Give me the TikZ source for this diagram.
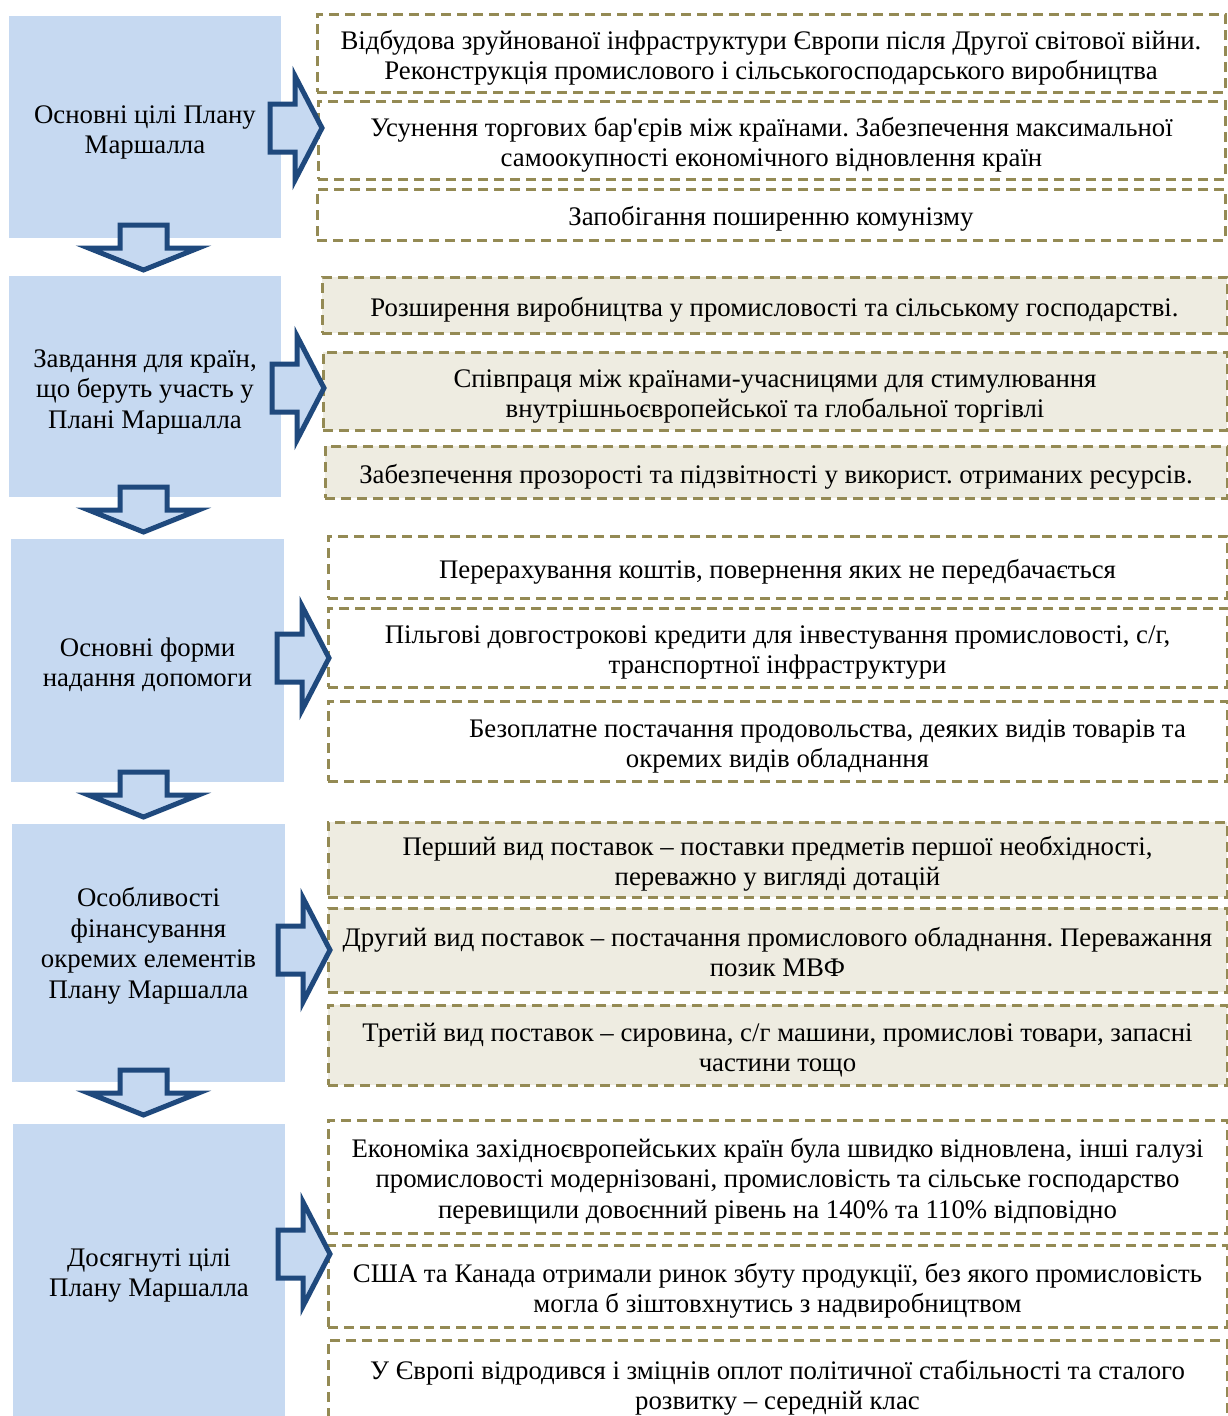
\documentclass[tikz,border=0pt]{standalone}
\usepackage{fontspec}
\setmainfont{Liberation Serif}[Ligatures=TeXOff]
\definecolor{goalblue}{RGB}{198,217,241}
\definecolor{arrowblue}{RGB}{31,73,125}
\definecolor{dashgold}{RGB}{148,138,84}
\definecolor{paleshade}{RGB}{238,236,225}

\begin{document}
\begin{tikzpicture}[x=1pt, y=-1pt,
     font=\fontsize{26.8}{30.4}\selectfont\frenchspacing,
     every node/.append style = {execute at begin node={\rule{0pt}{31pt}},
                execute at end node={\rule[-8.5pt]{0pt}{8.5pt}}},
   goal/.style 2 args = {rectangle, fill=goalblue, align=flush center,% left column
                text width=#1-4, inner sep=0pt, outer sep=0pt,
                minimum width=#1, minimum height=#2},
   item/.style 2 args = {rectangle, draw=dashgold, line width=3pt,
                dash pattern=on 10pt off 6pt, align=flush center,
                text width=#1-4, inner sep=0pt, outer sep=0pt,
                minimum width=#1, minimum height=#2},
  shade/.style = {fill=paleshade},% beige groups
  block/.style = {draw=arrowblue, fill=goalblue, line width=5pt,
                line join=miter},
                    ]
\useasboundingbox[fill=white] (0,0) rectangle (1227,1416);
% right column
\node[item={908}{78}] (r1a) at (771,53)
  {Відбудова зруйнованої інфраструктури Європи після Другої світової війни.\\
   Реконструкція промислового і сільськогосподарського виробництва};
\node[item={907}{78}] (r1b) at (771.5,140)
  {Усунення торгових бар'єрів між країнами. Забезпечення максимальної\\
   самоокупності економічного відновлення країн};
\node[item={908}{51}] (r1c) at (771,214.5) {Запобігання поширенню комунізму};
\node[item={905}{56},shade] (r2a) at (774.5,305)
  {Розширення виробництва у промисловості та сільському господарстві.};
\node[item={904}{78},shade] (r2b) at (775,391)
  {Співпраця між країнами-учасницями для стимулювання\\
   внутрішньоєвропейської та глобальної торгівлі};
\node[item={902}{52},shade] (r2c) at (776,472)
  {Забезпечення прозорості та підзвітності у використ. отриманих ресурсів.};
\node[item={899}{62}] (r3a) at (777.5,567)
  {Перерахування коштів, повернення яких не передбачається};
\node[item={899}{79}] (r3b) at (777.5,647.5)
  {Пільгові довгострокові кредити для інвестування промисловості, с/г,\\
   транспортної інфраструктури};
\node[item={899}{80}] (r3c) at (777.5,741)
  {\hspace*{100pt}Безоплатне постачання продовольства, деяких видів товарів та\\
   окремих видів обладнання};
\node[item={899}{75},shade] (r4a) at (777.5,859.5)
  {Перший вид поставок – поставки предметів першої необхідності,\\
   переважно у вигляді дотацій};
\node[item={899}{84},shade] (r4b) at (777.5,950)
  {Другий вид поставок – постачання промислового обладнання. Переважання\\
   позик МВФ};
\node[item={899}{80},shade] (r4c) at (777.5,1045)
  {Третій вид поставок – сировина, с/г машини, промислові товари, запасні\\
   частини тощо};
\node[item={899}{113}] (r5a) at (777.5,1176.5)
  {Економіка західноєвропейських країн була швидко відновлена, інші галузі\\
   промисловості модернізовані, промисловість та сільське господарство\\
   перевищили довоєнний рівень на 140\% та 110\% відповідно};
\node[item={899}{82}] (r5b) at (777.5,1286)
  {США та Канада отримали ринок збуту продукції, без якого промисловість\\
   могла б зіштовхнутись з надвиробництвом};
\node[item={899}{86}] (r5c) at (777.5,1383)
  {У Європі відродився і зміцнів оплот політичної стабільності та сталого\\
   розвитку – середній клас};
% left column
\node[goal={272}{222}] (g1) at (145,127) {Основні цілі Плану\\Маршалла};
\node[goal={272}{221}] (g2) at (145,386.5)
  {Завдання для країн,\\що беруть участь у\\Плані Маршалла};
\node[goal={273}{243}] (g3) at (147.5,660.5) {Основні форми\\надання допомоги};
\node[goal={273}{258}] (g4) at (148.5,953)
  {Особливості\\фінансування\\окремих елементів\\Плану Маршалла\rule[-32pt]{0pt}{32pt}};
\node[goal={272}{292}] (g5) at (149,1270) {Досягнуті цілі\\Плану Маршалла};
% block arrows
\foreach \x/\y in {270/128, 272/388, 277/658, 278/950, 278/1254}
  \draw[block] (\x,\y) ++(0,-24) -- ++(25,0) -- ++(0,-28) -- ++(27,52)
        -- ++(-27,52) -- ++(0,-28) -- ++(-25,0) -- cycle;
\foreach \x/\y in {143.5/225, 143.5/487, 143.5/772, 143.5/1070}
  \draw[block] (\x,\y) ++(-23.5,0) -- ++(47,0) -- ++(0,23) -- ++(31.5,0)
        -- ++(-55,22) -- ++(-55,-22) -- ++(31.5,0) -- cycle;
\end{tikzpicture}
\end{document}
